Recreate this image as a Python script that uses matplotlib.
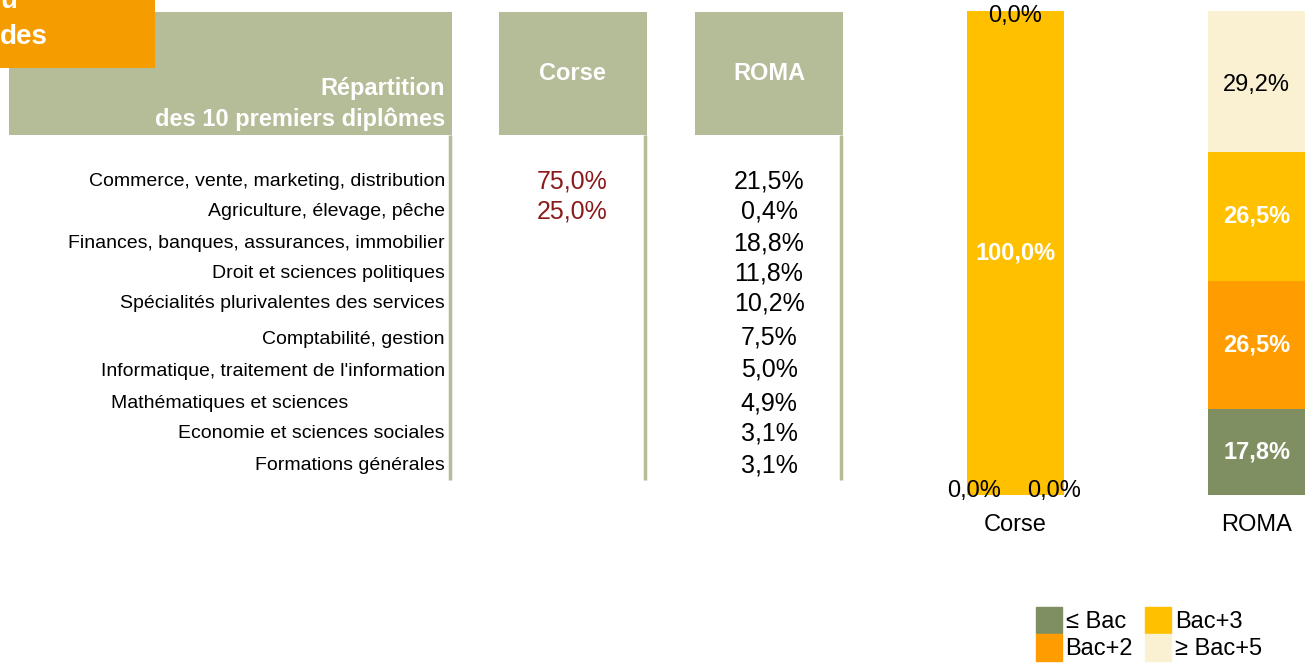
import matplotlib
matplotlib.use('Agg')
import matplotlib.pyplot as plt
from matplotlib.patches import Rectangle, Patch
from matplotlib import font_manager
import numpy as np

# table data
diplomes = ['Commerce, vente, marketing, distribution', 'Agriculture, élevage, pêche',
            'Finances, banques, assurances, immobilier', 'Droit et sciences politiques',
            'Spécialités plurivalentes des services', 'Comptabilité, gestion',
            "Informatique, traitement de l'information", 'Mathématiques et sciences',
            'Economie et sciences sociales', 'Formations générales']
corse_pct = ['75,0%', '25,0%', '', '', '', '', '', '', '', '']
roma_pct = ['21,5%', '0,4%', '18,8%', '11,8%', '10,2%', '7,5%', '5,0%', '4,9%', '3,1%', '3,1%']

# bar data
groupes = ['Corse', 'ROMA']
niveaux = ['≤ Bac', 'Bac+2', 'Bac+3', '≥ Bac+5']
inf_bac = [0.0, 17.8]
bac2 = [0.0, 26.5]
bac3 = [100.0, 26.5]
sup_bac5 = [0.0, 29.2]
couleurs = ['#7F8F62', '#FF9C00', '#FFC000', '#FAF0D2']

names = [f.name for f in font_manager.fontManager.ttflist]
narrow = 'Liberation Sans Narrow' if 'Liberation Sans Narrow' in names else 'Liberation Sans'
narrow_size = 15 if narrow == 'Liberation Sans Narrow' else 14
plt.rcParams['font.family'] = ['Liberation Sans', 'DejaVu Sans']

W, H = 1311, 666
fig = plt.figure(figsize=(W / 100, H / 100), dpi=100)
ax0 = fig.add_axes([0, 0, 1, 1])
ax0.set_xlim(0, W)
ax0.set_ylim(H, 0)
ax0.axis('off')

green = '#B5BC98'
# header boxes
ax0.add_patch(Rectangle((9, 12), 443, 123, color=green, lw=0))
ax0.add_patch(Rectangle((499, 12), 148, 123, color=green, lw=0))
ax0.add_patch(Rectangle((695, 12), 148, 123, color=green, lw=0))
for xl in [450, 645, 841]:
    ax0.plot([xl, xl], [135, 480], color=green, lw=2.5, solid_capstyle='butt')

ax0.text(445, 88, 'Répartition', ha='right', va='center', color='white', fontsize=17, fontweight='bold')
ax0.text(445, 119, 'des 10 premiers diplômes', ha='right', va='center', color='white', fontsize=17, fontweight='bold')
ax0.text(572, 73, 'Corse', ha='center', va='center', color='white', fontsize=17, fontweight='bold')
ax0.text(769, 73, 'ROMA', ha='center', va='center', color='white', fontsize=17, fontweight='bold')

# orange title box (cut off on the left)
ax0.add_patch(Rectangle((0, 0), 155, 68, color='#F59C00', lw=0))
ax0.text(0, 8, 'u', ha='left', va='baseline', color='white', fontsize=20, fontweight='bold')
ax0.text(0, 44, 'des', ha='left', va='baseline', color='white', fontsize=20, fontweight='bold')

rows_y = [181, 212, 243, 274, 304, 339, 372, 403, 434, 465]
for i, lab in enumerate(diplomes):
    xr = 348 if i == 7 else 445
    ax0.text(xr, rows_y[i], lab, ha='right', va='center', fontsize=narrow_size,
             family=[narrow, 'DejaVu Sans'])
    ax0.text(572, rows_y[i], corse_pct[i], ha='center', va='center', fontsize=18, color='#8B1A1A')
    ax0.text(769, rows_y[i] - (2 if i in (5, 6) else 0), roma_pct[i], ha='center', va='center', fontsize=18)

# stacked bars
ax = fig.add_axes([920 / W, (H - 495) / H, 391 / W, 484 / H])
x = np.arange(len(groupes))
series = [inf_bac, bac2, bac3, sup_bac5]
bottom = np.zeros(len(groupes))
bw = 0.402
for k, vals in enumerate(series):
    vals = np.array(vals)
    ax.bar(x, vals, bw, bottom=bottom, color=couleurs[k], label=niveaux[k], lw=0)
    for j in range(len(groupes)):
        txt = f'{vals[j]:.1f}%'.replace('.', ',')
        if vals[j] == 0:
            if k == 0:
                ax.text(x[j] - 0.17, 0.8, txt, ha='center', va='center', fontsize=17)
            elif k == 1:
                ax.text(x[j] + 0.16, 0.8, txt, ha='center', va='center', fontsize=17)
            else:
                ax.text(x[j], bottom[j] - 1.0, txt, ha='center', va='center', fontsize=17, clip_on=False)
        else:
            yc = bottom[j] + vals[j] / 2
            if k == 3:
                ax.text(x[j], yc - 0.6, txt, ha='center', va='center', fontsize=17)
            else:
                ax.text(x[j], yc, txt, ha='center', va='center', fontsize=17,
                        color='white', fontweight='bold')
    bottom = bottom + vals

ax.set_xlim(-0.396, 1.226)
ax.set_ylim(0, 100)
ax.set_xticks(x)
ax.set_xticklabels(groupes, fontsize=17)
ax.tick_params(axis='x', length=0, pad=14)
ax.set_yticks([])
for s in ax.spines.values():
    s.set_visible(False)

handles = [Patch(color=couleurs[k], label=niveaux[k]) for k in range(4)]
fig.legend(handles=handles, ncol=2, loc='upper left', bbox_to_anchor=(1019 / W, 1 - 590 / H),
           frameon=False, fontsize=17, handlelength=1.1, handleheight=1.35,
           handletextpad=0.17, columnspacing=0.5, labelspacing=0.05, borderpad=0.2)

fig.savefig('out.png', dpi=100)
